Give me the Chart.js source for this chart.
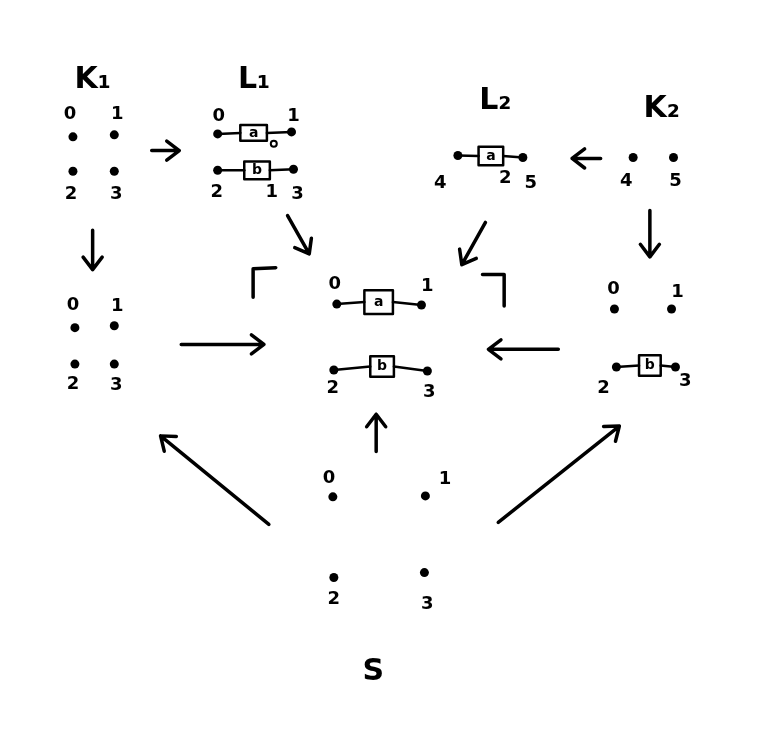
<!DOCTYPE html>
<html>
<head>
<meta charset="utf-8">
<script src="https://cdn.jsdelivr.net/npm/chart.js@4"></script>
<style>
  html, body { margin: 0; padding: 0; background: #fff; }
  #wrap { width: 775px; height: 736px; }
</style>
</head>
<body>
<div id="wrap"><canvas id="diagram"></canvas></div>
<script>
// vertices of every graph (K1, L1, K1', centre, L2, K2, K2', S)
const vertexX = [68, 110, 68, 110,  215, 290, 215, 292,  70, 110, 70, 110,  336, 422, 333, 428,
                 459, 525,  637, 678,  618, 676, 620, 680,  332, 426, 333, 425];
const vertexY = [133, 131, 168, 168,  130, 128, 167, 166,  327, 325, 364, 364,  303, 304, 370, 371,
                 152, 154,  154, 154,  308, 308, 367, 367,  499, 498, 581, 576];

// hyperedge boxes: x1, y1, x2, y2, label
const boxes = [
  [238, 121, 265, 137, 'a'],
  [242, 158, 268, 176, 'b'],
  [364, 289, 393, 313, 'a'],
  [370, 356, 394, 377, 'b'],
  [480, 143, 505, 162, 'a'],
  [643, 355, 665, 376, 'b']
];
// edges: left vertex, box, right vertex
const edges = [[4, 0, 5], [6, 1, 7], [12, 2, 13], [14, 3, 15], [16, 4, 17], [22, 5, 23]];

// arrows: tail x, tail y, tip x, tip y
const arrows = [
  [148, 147, 176, 147],
  [88, 228, 88, 268],
  [178, 344, 262, 344],
  [286, 213, 308, 252],
  [487, 220, 463, 263],
  [604, 155, 575, 155],
  [654, 208, 654, 255],
  [561, 349, 490, 349],
  [376, 453, 376, 415],
  [267, 527, 157, 437],
  [500, 525, 623, 427]
];

// pushout corner marks
const corners = [
  [[251, 296], [251, 267], [274, 266]],
  [[484, 273], [506, 273], [506, 305]]
];

// small open circle on L1
const ringX = [272];
const ringY = [140];

// titles
const titleText = ['K₁', 'L₁', 'L₂', 'K₂', 'S'];
const titleX = [88, 252, 497, 666, 373];
const titleY = [75, 75, 97, 105, 677];

// vertex labels
const labelText = ['0', '1', '2', '3',  '0', '1', '2', '1', '3',  '0', '1', '2', '3',  '0', '1', '2', '3',
                   '4', '2', '5',  '4', '5',  '0', '1', '2', '3',  '0', '1', '2', '3'];
const labelX = [65, 113, 66, 112,  216, 292, 214, 270, 296,  68, 113, 68, 112,  334, 428, 332, 430,
                441, 507, 533,  630, 680,  617, 682, 607, 690,  328, 446, 333, 428];
const labelY = [110, 110, 191, 191,  112, 112, 189, 189, 191,  304, 305, 385, 386,  283, 285, 389, 393,
                180, 175, 180,  178, 178,  288, 291, 389, 382,  480, 481, 603, 608];

const ink = '#000';
const datasets = [];

function lineSet(points, width) {
  return {
    type: 'line', data: points, borderColor: ink, borderWidth: width,
    pointRadius: 0, fill: false, tension: 0, borderCapStyle: 'round', borderJoinStyle: 'round'
  };
}

arrows.forEach(([x1, y1, x2, y2]) => {
  const a = Math.atan2(y2 - y1, x2 - x1), h = 16, s = 0.65;
  const l = { x: x2 - h * Math.cos(a - s), y: y2 - h * Math.sin(a - s) };
  const r = { x: x2 - h * Math.cos(a + s), y: y2 - h * Math.sin(a + s) };
  datasets.push(lineSet([{ x: x1, y: y1 }, { x: x2, y: y2 }, l, { x: x2, y: y2 }, r], 3.5));
});

corners.forEach(c => datasets.push(lineSet(c.map(([x, y]) => ({ x, y })), 3.5)));

boxes.forEach(([x1, y1, x2, y2]) => {
  datasets.push(lineSet([{ x: x1, y: y1 }, { x: x2, y: y1 }, { x: x2, y: y2 }, { x: x1, y: y2 }, { x: x1, y: y1 }], 2.5));
});

edges.forEach(([va, b, vb]) => {
  const bx = boxes[b], my = (bx[1] + bx[3]) / 2;
  datasets.push(lineSet([{ x: vertexX[va], y: vertexY[va] }, { x: bx[0], y: my }], 2.5));
  datasets.push(lineSet([{ x: bx[2], y: my }, { x: vertexX[vb], y: vertexY[vb] }], 2.5));
});

datasets.push({
  type: 'scatter', data: vertexX.map((x, i) => ({ x, y: vertexY[i] })),
  pointRadius: 4.5, backgroundColor: ink, borderColor: ink, borderWidth: 0
});
datasets.push({
  type: 'scatter', data: ringX.map((x, i) => ({ x, y: ringY[i] })),
  pointRadius: 3, backgroundColor: '#fff', borderColor: ink, borderWidth: 2
});

const textPlugin = {
  id: 'texts',
  afterDatasetsDraw(chart) {
    const { ctx, scales: { x, y } } = chart;
    ctx.save();
    ctx.fillStyle = ink;
    ctx.textAlign = 'center';
    ctx.textBaseline = 'middle';
    ctx.font = 'bold 30px "DejaVu Sans"';
    titleText.forEach((t, i) => ctx.fillText(t, x.getPixelForValue(titleX[i]), y.getPixelForValue(titleY[i])));
    ctx.font = 'bold 18px "DejaVu Sans"';
    labelText.forEach((t, i) => ctx.fillText(t, x.getPixelForValue(labelX[i]), y.getPixelForValue(labelY[i])));
    ctx.font = 'bold 14px "DejaVu Sans"';
    boxes.forEach(b => ctx.fillText(b[4], x.getPixelForValue((b[0] + b[2]) / 2), y.getPixelForValue((b[1] + b[3]) / 2)));
    ctx.restore();
  }
};

new Chart(document.getElementById('diagram'), {
  type: 'scatter',
  data: { datasets },
  options: {
    responsive: true,
    maintainAspectRatio: false,
    animation: false,
    layout: { padding: 0 },
    plugins: { legend: { display: false }, tooltip: { enabled: false } },
    scales: {
      x: { type: 'linear', min: 0, max: 775, display: false },
      y: { type: 'linear', min: 0, max: 736, reverse: true, display: false }
    }
  },
  plugins: [textPlugin]
});
</script>
</body>
</html>
